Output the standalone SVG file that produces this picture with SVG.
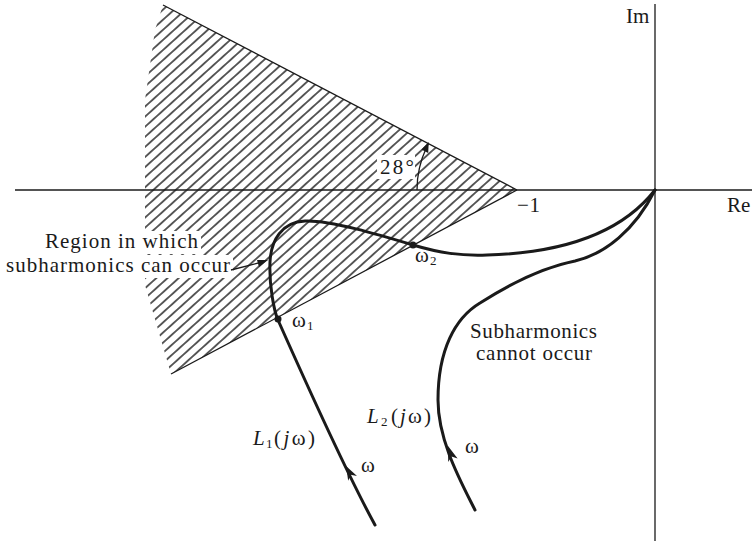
<svg xmlns="http://www.w3.org/2000/svg" width="752" height="546" viewBox="0 0 752 546">
  <defs>
    <style>
      .ax { stroke:#1a1a1a; stroke-width:1.3; fill:none; }
      .edge { stroke:#1a1a1a; stroke-width:1.3; fill:none; }
      .curve { stroke:#1a1a1a; stroke-width:3; fill:none; stroke-linecap:round; stroke-linejoin:round; }
      .head { fill:#1a1a1a; stroke:none; }
      .t { font-family:"Liberation Serif","Times New Roman",serif; font-size:21px; fill:#1a1a1a; }
      .it { font-style:italic; }
      .sub { font-family:"Liberation Serif","Times New Roman",serif; font-size:13px; fill:#1a1a1a; }
      .bg { fill:#ffffff; stroke:none; }
    </style>
    <pattern id="hatch" patternUnits="userSpaceOnUse" width="12" height="7.5" patternTransform="rotate(-42)">
      <line x1="0" y1="3.75" x2="12" y2="3.75" stroke="#1a1a1a" stroke-width="1.4"/>
    </pattern>
    <clipPath id="regionClip">
      <polygon points="163,5 517,190 171,374 145,285 145,100 155,30"/>
    </clipPath>
  </defs>
  <rect width="752" height="546" fill="#ffffff"/>

  <g id="hatched-region">
    <rect x="140" y="0" width="380" height="380" fill="url(#hatch)" clip-path="url(#regionClip)"/>
    <line class="edge" x1="163" y1="5" x2="517" y2="190"/>
    <line class="edge" x1="517" y1="190" x2="171" y2="374"/>
  </g>

  <g id="axes">
    <line class="ax" x1="15" y1="190" x2="752" y2="190"/>
    <line class="ax" x1="655" y1="4" x2="655" y2="541"/>
    <text class="t" x="626" y="23">Im</text>
    <text class="t" x="727" y="212">Re</text>
    <text class="t" x="517" y="212" textLength="23" lengthAdjust="spacing">−1</text>
  </g>

  <g id="angle">
    <rect class="bg" x="377" y="155" width="38" height="24"/>
    <text class="t" x="380" y="174" textLength="34" lengthAdjust="spacing">28°</text>
    <path class="edge" d="M417,190 A100,100 0 0 1 426.5,147.5"/>
    <polygon class="head" points="428.7,142 428.2,153 421.4,149.5"/>
  </g>

  <g id="region-label">
    <rect class="bg" x="140" y="231" width="61" height="23"/>
    <rect class="bg" x="140" y="255" width="93" height="23"/>
    <text class="t" x="45" y="248" textLength="153" lengthAdjust="spacing">Region in which</text>
    <text class="t" x="6" y="272" textLength="224" lengthAdjust="spacing">subharmonics can occur</text>
  </g>

  <g id="connectors">
    <line class="edge" x1="231" y1="270" x2="262" y2="262"/>
    <polygon class="head" points="268,260 259,267 257,260"/>
  </g>

  <g id="curve-L1">
    <path class="curve" d="M375,525 C345,470 298,365 278,320 C274,311 269,285 270,262 C271,240 282,222 305,221 C330,220 380,235 413,245 C440,253 460,256 487,255 C560,253 620,235 655,190"/>
    <polygon class="head" points="346,466 357,476 350.7,474.8 348.2,480.7"/>
    <circle cx="278" cy="319" r="3.5" fill="#1a1a1a"/>
    <circle cx="413" cy="245" r="3.5" fill="#1a1a1a"/>
    <text class="t" x="292" y="327">ω</text>
    <text class="sub" x="307" y="330">1</text>
    <text class="t" x="415" y="262">ω</text>
    <text class="sub" x="430" y="265">2</text>
    <text class="t it" x="253" y="445">L</text>
    <text class="sub" x="266" y="448">1</text>
    <text class="t" x="274" y="445" textLength="41" lengthAdjust="spacing">(<tspan class="it">j</tspan>ω)</text>
    <text class="t" x="361" y="472">ω</text>
  </g>

  <g id="curve-L2">
    <path class="curve" d="M475,510 C460,480 438,440 438,400 C438,350 455,318 480,303 C505,287 540,268 575,261 C605,254 635,230 655,190"/>
    <polygon class="head" points="448,446 457.6,458.4 451.5,456.4 448.2,461.9"/>
    <text class="t it" x="367" y="423">L</text>
    <text class="sub" x="381" y="426">2</text>
    <text class="t" x="391" y="423" textLength="40" lengthAdjust="spacing">(<tspan class="it">j</tspan>ω)</text>
    <text class="t" x="465" y="453">ω</text>
  </g>

  <g id="no-subharmonics-label">
    <text class="t" x="470" y="338" textLength="127" lengthAdjust="spacing">Subharmonics</text>
    <text class="t" x="476" y="360" textLength="116" lengthAdjust="spacing">cannot occur</text>
  </g>
</svg>
